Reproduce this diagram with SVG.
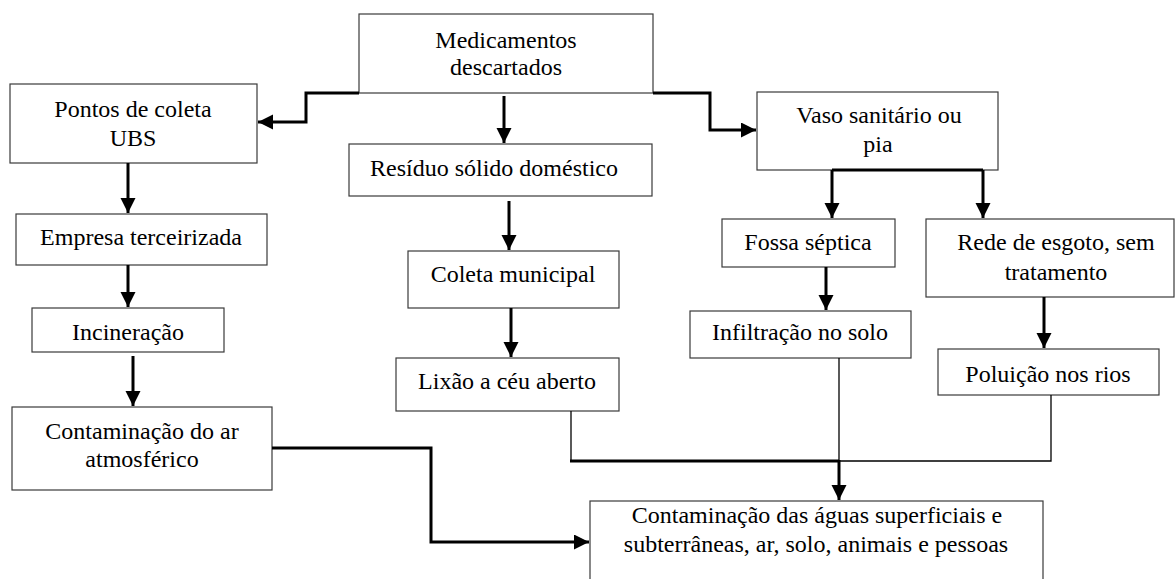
<svg xmlns="http://www.w3.org/2000/svg" width="1176" height="579" viewBox="0 0 1176 579">
<style>
.box{fill:#fff;stroke:#3a3a3a;stroke-width:1.2}
.t{font-family:"Liberation Serif","Times New Roman",serif;font-size:24px;fill:#000;text-anchor:middle}
.thick{fill:none;stroke:#000;stroke-width:3}
.thin{fill:none;stroke:#000;stroke-width:1.3}
</style>
<defs>
<marker id="ah" markerUnits="userSpaceOnUse" markerWidth="16" markerHeight="16" refX="15" refY="7.5" orient="auto">
<path d="M0,0 L15,7.5 L0,15 z" fill="#000"/>
</marker>
</defs>
<rect width="1176" height="579" fill="#fff"/>
<g id="n-medicamentos"><rect class="box" x="359" y="14" width="294" height="79"/><text class="t" x="506" y="48">Medicamentos</text><text class="t" x="506" y="75">descartados</text></g>
<g id="n-pontos"><rect class="box" x="10" y="84" width="247" height="79"/><text class="t" x="133" y="117">Pontos de coleta</text><text class="t" x="133" y="146">UBS</text></g>
<g id="n-residuo"><rect class="box" x="349" y="144" width="303" height="52"/><text class="t" x="494" y="176">Resíduo sólido doméstico</text></g>
<g id="n-vaso"><rect class="box" x="757" y="92" width="241" height="78"/><text class="t" x="879" y="123">Vaso sanitário ou</text><text class="t" x="878" y="152">pia</text></g>
<g id="n-empresa"><rect class="box" x="16" y="214" width="251" height="51"/><text class="t" x="141" y="245">Empresa terceirizada</text></g>
<g id="n-coleta"><rect class="box" x="408" y="251" width="211" height="57"/><text class="t" x="513" y="282">Coleta municipal</text></g>
<g id="n-fossa"><rect class="box" x="722" y="219" width="173" height="48"/><text class="t" x="808" y="250">Fossa séptica</text></g>
<g id="n-rede"><rect class="box" x="926" y="219" width="248" height="78"/><text class="t" x="1056" y="250">Rede de esgoto, sem</text><text class="t" x="1056" y="280">tratamento</text></g>
<g id="n-incineracao"><rect class="box" x="32" y="308" width="192" height="44"/><text class="t" x="128" y="340">Incineração</text></g>
<g id="n-infiltracao"><rect class="box" x="690" y="311" width="221" height="47"/><text class="t" x="800" y="340">Infiltração no solo</text></g>
<g id="n-lixao"><rect class="box" x="396" y="358" width="223" height="53"/><text class="t" x="507" y="389">Lixão a céu aberto</text></g>
<g id="n-poluicao"><rect class="box" x="938" y="349" width="221" height="46"/><text class="t" x="1048" y="382">Poluição nos rios</text></g>
<g id="n-ar"><rect class="box" x="12" y="407" width="260" height="83"/><text class="t" x="142" y="439">Contaminação do ar</text><text class="t" x="142" y="467">atmosférico</text></g>
<g id="n-final"><rect class="box" x="590" y="501" width="453" height="90"/><text class="t" x="817" y="523">Contaminação das águas superficiais e</text><text class="t" x="816" y="552">subterrâneas, ar, solo, animais e pessoas</text></g>
<g id="connectors">
<path class="thick" d="M359,93 H306 V122 H258" marker-end="url(#ah)"/>
<path class="thick" d="M504,96 V143" marker-end="url(#ah)"/>
<path class="thick" d="M653,93 H710 V130 H756" marker-end="url(#ah)"/>
<path class="thick" d="M832,170 H983"/>
<path class="thick" d="M832,170 V218" marker-end="url(#ah)"/>
<path class="thick" d="M983,170 V218" marker-end="url(#ah)"/>
<path class="thick" d="M128,163 V213" marker-end="url(#ah)"/>
<path class="thick" d="M128,265 V307" marker-end="url(#ah)"/>
<path class="thick" d="M133,356 V406" marker-end="url(#ah)"/>
<path class="thick" d="M509,201 V250" marker-end="url(#ah)"/>
<path class="thick" d="M511,308 V357" marker-end="url(#ah)"/>
<path class="thick" d="M826,267 V310" marker-end="url(#ah)"/>
<path class="thick" d="M1044,297 V348" marker-end="url(#ah)"/>
<path class="thick" d="M272,448 H431 V542 H589" marker-end="url(#ah)"/>
<path class="thin" d="M571,411 V461"/>
<path class="thick" d="M570,461 H839"/>
<path class="thin" d="M839,358 V461"/>
<path class="thin" d="M1051,395 V461 H839"/>
<path class="thick" d="M839,460 V500" marker-end="url(#ah)"/>
</g>
</svg>
